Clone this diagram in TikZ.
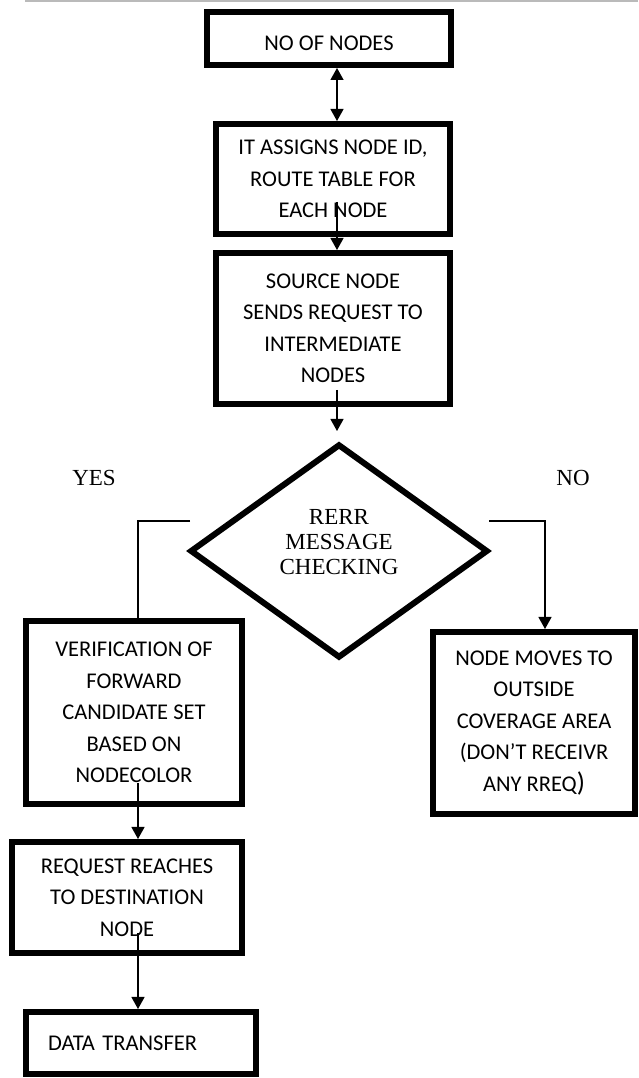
\documentclass[tikz,border=0pt]{standalone}
\usepackage{fontspec}
\setmainfont{Liberation Serif}
\newfontfamily\calib{Carlito}
\usetikzlibrary{shapes.geometric,arrows.meta}

\tikzset{
  process/.style={rectangle, draw, line width=6pt, align=center, inner sep=0pt,
    font=\calib\fontsize{22.5}{31.5}\selectfont},
  decision/.style={diamond, draw, line width=6pt, align=center, inner sep=0pt,
    font=\fontsize{23}{25}\selectfont},
  answer/.style={font=\fontsize{23}{25}\selectfont},
  arr/.style={line width=1.2pt, -{Triangle[width=13pt,length=12pt]}},
  darr/.style={line width=1.2pt, {Triangle[width=13pt,length=12pt]}-{Triangle[width=13pt,length=12pt]}},
  wire/.style={line width=1.2pt}
}

\begin{document}
\begin{tikzpicture}[x=1pt, y=1pt]
  \useasboundingbox (0, 0) rectangle (638, 1078);
  \draw[line width=2.5pt, black!27] (25, 1077) -- (638, 1077);

  \node (box1) at (329, 1039.5) [process, minimum width=244pt, minimum height=53pt,
    text height=24pt, text depth=0pt] {NO OF NODES};
  \node (box2) at (333, 899) [process, minimum width=234pt, minimum height=110pt]
    {IT ASSIGNS NODE ID,\\ROUTE TABLE FOR\\EACH NODE};
  \node (box3) at (333, 749.5) [process, minimum width=234pt, minimum height=151pt]
    {SOURCE NODE\\SENDS REQUEST TO\\INTERMEDIATE\\NODES};
  \node (chk) at (339, 527) [decision, minimum width=298pt, minimum height=214pt,
    text depth=18pt] {RERR\\MESSAGE\\CHECKING};

  \node (yes) at (94, 600) [answer] {YES};
  \node (no) at (573, 600) [answer] {NO};

  \node (verify) at (134, 365.5) [process, minimum width=216pt, minimum height=183pt]
    {VERIFICATION OF\\FORWARD\\CANDIDATE SET\\BASED ON\\NODECOLOR};
  \node (move) at (534, 355) [process, minimum width=202pt, minimum height=182pt]
    {NODE MOVES TO\\OUTSIDE\\COVERAGE AREA\\(DON’T RECEIVR\\ANY RREQ{\fontsize{27}{31}\selectfont )}};
  \node (req) at (127, 180.5) [process, minimum width=230pt, minimum height=111pt]
    {REQUEST REACHES\\TO DESTINATION\\NODE};
  \node (data) at (141, 35) [process, minimum width=230pt, minimum height=62pt,
    text width=186pt, align=left] {DATA TRANSFER};

  \coordinate (yesstart) at (190, 557);
  \coordinate (nostart) at (489, 557);

  \draw[darr] ([xshift=8pt]box1.south) -- ([xshift=4pt]box2.north);
  \draw[arr] ([xshift=4pt, yshift=35pt]box2.south) -- ([xshift=4pt]box3.north);
  \draw[arr] ([xshift=4pt, yshift=17pt]box3.south) -- ([xshift=-2pt, yshift=10pt]chk.north);
  \draw[wire] (yesstart) -| ([xshift=4pt]verify.north);
  \draw[arr] (nostart) -| ([xshift=11pt]move.north);
  \draw[arr] ([xshift=4pt, yshift=24pt]verify.south) -- ([xshift=11pt]req.north);
  \draw[arr] ([xshift=11pt, yshift=23pt]req.south) -- ([xshift=-3pt]data.north);
\end{tikzpicture}
\end{document}
